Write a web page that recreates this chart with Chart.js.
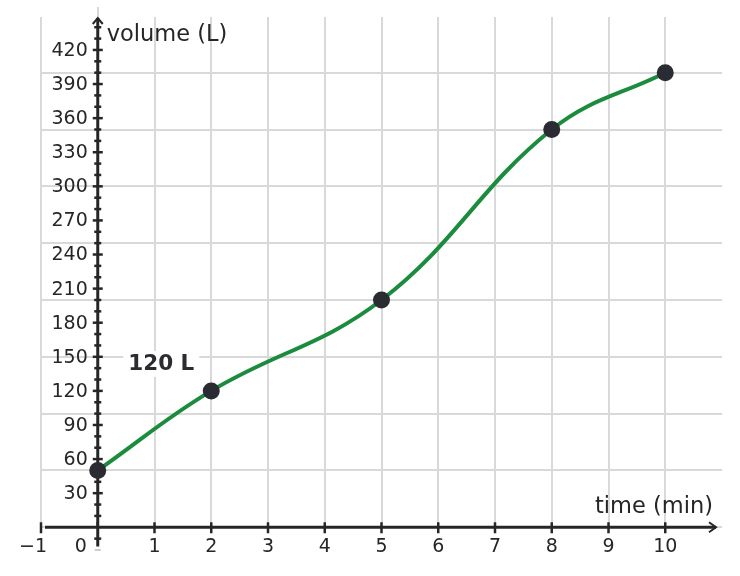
<!DOCTYPE html>
<html>
<head>
<meta charset="utf-8">
<script src="https://cdn.jsdelivr.net/npm/chart.js@4"></script>
<style>
  html, body { margin: 0; padding: 0; background: #fff; }
  canvas { display: block; }
</style>
</head>
<body>
<canvas id="tank" width="740" height="576"></canvas>
<script>
// data
const times = [0, 2, 5, 8, 10]
const volumes = [50, 120, 200, 350, 400]
const xTicks = [-1, 0, 1, 2, 3, 4, 5, 6, 7, 8, 9, 10]
const yTicks = [30, 60, 90, 120, 150, 180, 210, 240, 270, 300, 330, 360, 390, 420]
const xGrid = [-1, 0, 1, 2, 3, 4, 5, 6, 7, 8, 9, 10]
const yGrid = [0, 50, 100, 150, 200, 250, 300, 350, 400]
const calloutText = '120 L'

const FONT = '"DejaVu Sans", sans-serif'
const INK = '#262626'

// grid, axes, ticks and labels drawn by hand so the axes cross at the origin
const axesPlugin = {
  id: 'axes',
  beforeDatasetsDraw(chart) {
    const ctx = chart.ctx
    const xs = chart.scales.x
    const ys = chart.scales.y
    const area = chart.chartArea
    const x0 = xs.getPixelForValue(0)
    const y0 = ys.getPixelForValue(0)
    const xMin = xs.getPixelForValue(-1)
    const xMax = xs.getPixelForValue(11)
    const yTop = area.top

    ctx.save()
    // grid
    ctx.strokeStyle = '#d9d9d9'
    ctx.lineWidth = 2
    xGrid.forEach(v => {
      const px = Math.round(xs.getPixelForValue(v))
      ctx.beginPath()
      ctx.moveTo(px, v === 0 ? yTop - 10 : yTop)
      ctx.lineTo(px, y0)
      ctx.stroke()
    })
    yGrid.forEach(v => {
      const py = Math.round(ys.getPixelForValue(v))
      ctx.beginPath()
      ctx.moveTo(xMin, py)
      ctx.lineTo(xMax, py)
      ctx.stroke()
    })

    ctx.strokeStyle = INK
    ctx.fillStyle = INK

    // y axis
    ctx.lineWidth = 3
    ctx.beginPath()
    ctx.moveTo(x0, ys.getPixelForValue(-17))
    ctx.lineTo(x0, yTop + 1)
    ctx.stroke()
    ctx.lineWidth = 2
    ctx.beginPath()
    ctx.moveTo(x0 - 5, yTop + 7)
    ctx.lineTo(x0, yTop + 1)
    ctx.lineTo(x0 + 5, yTop + 7)
    ctx.stroke()
    // y minor / major ticks
    for (let v = -10; v <= 440; v += 10) {
      if (v === 0) continue
      const py = ys.getPixelForValue(v)
      const major = v % 30 === 0 && v > 0
      ctx.lineWidth = 2.5
      ctx.beginPath()
      ctx.moveTo(x0 - (major ? 5 : 3.5), py)
      ctx.lineTo(x0 + (major ? 5 : 3.5), py)
      ctx.stroke()
    }
    ctx.strokeStyle = '#9a9a9a'
    ctx.lineWidth = 1
    ctx.beginPath()
    const pyNeg = ys.getPixelForValue(-20)
    ctx.moveTo(x0 - 3, pyNeg)
    ctx.lineTo(x0 + 3, pyNeg)
    ctx.stroke()
    ctx.strokeStyle = INK

    // x axis
    ctx.lineWidth = 3
    ctx.beginPath()
    ctx.moveTo(xMin + 4, y0)
    ctx.lineTo(xMax - 6, y0)
    ctx.stroke()
    ctx.lineWidth = 2
    ctx.beginPath()
    ctx.moveTo(xMax - 13, y0 - 5)
    ctx.lineTo(xMax - 6, y0)
    ctx.lineTo(xMax - 13, y0 + 5)
    ctx.stroke()
    ctx.lineWidth = 2.5
    xTicks.forEach(v => {
      const px = xs.getPixelForValue(v)
      ctx.beginPath()
      ctx.moveTo(px, y0 - 5)
      ctx.lineTo(px, y0 + (v === 0 ? 0 : 6))
      ctx.stroke()
    })

    // tick labels
    ctx.font = '19px ' + FONT
    ctx.textAlign = 'right'
    ctx.textBaseline = 'middle'
    yTicks.forEach(v => {
      ctx.fillText(String(v), x0 - 10, ys.getPixelForValue(v) + 1)
    })
    ctx.textAlign = 'center'
    ctx.textBaseline = 'top'
    xTicks.forEach(v => {
      const px = xs.getPixelForValue(v)
      let label = String(v).replace('-', '\u2212')
      let dx = 0
      if (v === 0) dx = -17
      if (v === -1) dx = -8
      ctx.fillText(label, px + dx, y0 + 10)
    })

    // axis titles
    ctx.font = '22.5px ' + FONT
    ctx.textAlign = 'left'
    ctx.textBaseline = 'middle'
    ctx.fillText('volume (L)', x0 + 9, yTop + 18)
    ctx.textAlign = 'right'
    ctx.fillText('time (min)', xMax - 9, y0 - 20)

    // callout above the second point
    ctx.font = 'bold 21.5px ' + FONT
    const cx = xs.getPixelForValue(times[1]) - 50
    const cy = ys.getPixelForValue(volumes[1]) - 27
    const w = ctx.measureText(calloutText).width
    ctx.fillStyle = '#fff'
    ctx.fillRect(cx - w / 2 - 5, cy - 13, w + 10, 26)
    ctx.fillStyle = '#2b2b30'
    ctx.textAlign = 'center'
    ctx.fillText(calloutText, cx, cy + 1)
    ctx.restore()
  }
}

new Chart(document.getElementById('tank'), {
  type: 'scatter',
  data: {
    datasets: [{
      data: times.map((t, i) => ({ x: t, y: volumes[i] })),
      showLine: true,
      borderColor: '#1b8c3d',
      borderWidth: 4,
      tension: 0.4,
      pointRadius: 8.5,
      pointBackgroundColor: '#2b2b33',
      pointBorderColor: '#2b2b33',
      pointBorderWidth: 0
    }]
  },
  options: {
    responsive: false,
    animation: false,
    layout: { padding: { left: 41, right: 18, top: 17, bottom: 26 } },
    plugins: { legend: { display: false }, tooltip: { enabled: false } },
    scales: {
      x: { type: 'linear', min: -1, max: 11, display: false },
      y: { type: 'linear', min: -20, max: 449, display: false }
    }
  },
  plugins: [axesPlugin]
})
</script>
</body>
</html>
